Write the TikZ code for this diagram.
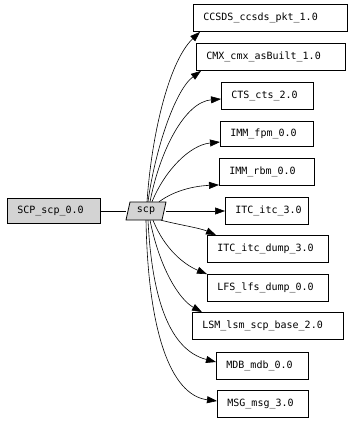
\documentclass[tikz,border=0pt]{standalone}
\usepackage{fontspec}
\setmonofont{DejaVu Sans Mono}
\usetikzlibrary{arrows.meta,calc}
\definecolor{lgray}{HTML}{D3D3D3}
\tikzset{
  box/.style={draw, rectangle, line width=0.8pt, inner xsep=10pt, inner ysep=0pt,
    minimum height=27pt, align=left, anchor=west, font=\ttfamily\fontsize{10}{12}\selectfont},
  edge/.style={line width=0.6pt, -{Triangle[length=10pt,width=7pt]}},
}
\begin{document}
\begin{tikzpicture}[x=1pt,y=-1pt]
\useasboundingbox (0,0) rectangle (349,421);
% source nodes
\node[box, fill=lgray, text width=73pt, minimum height=25pt] (SCP) at (7,211) {SCP\_scp\_0.0};
\fill[lgray] (126,220) -- (130,202) -- (166,202) -- (162,220) -- cycle;
\draw[line width=0.8pt] (126,220) -- (130,202) -- (166,202) -- (162,220) -- cycle;
\node[rectangle, minimum width=36pt, minimum height=18pt, inner sep=0pt, font=\ttfamily\fontsize{10}{12}\selectfont] (scp) at (146,211) {scp};
% targets
\node[box, text width=134pt] (ccsds) at (193,18) {CCSDS\_ccsds\_pkt\_1.0};
\node[box, text width=129pt] (cmx) at (196,57) {CMX\_cmx\_asBuilt\_1.0};
\node[box, text width=72pt] (cts) at (221,96) {CTS\_cts\_2.0};
\node[box, text width=73pt, minimum height=25pt] (fpm) at (220,134) {IMM\_fpm\_0.0};
\node[box, text width=75pt] (rbm) at (219,172) {IMM\_rbm\_0.0};
\node[box, text width=63pt] (itc) at (225,211) {ITC\_itc\_3.0};
\node[box, text width=101pt] (dump) at (207,249) {ITC\_itc\_dump\_3.0};
\node[box, text width=101pt] (lfs) at (207,288) {LFS\_lfs\_dump\_0.0};
\node[box, text width=131pt] (lsm) at (192,326) {LSM\_lsm\_scp\_base\_2.0};
\node[box, text width=72pt] (mdb) at (216,366) {MDB\_mdb\_0.0};
\node[box, text width=71pt] (msg) at (217,404) {MSG\_msg\_3.0};
% connectors
\draw[line width=0.6pt] (SCP.east) -- ($(scp.west)+(-2,0)$);
\draw[edge] ($(scp.north)+(1,0)$) .. controls (152,130) and (170,60) .. ($(ccsds.south west)+(7,0)$);
\draw[edge] ($(scp.north)+(2,0)$) .. controls (155,150) and (175,90) .. ($(cmx.south west)+(5,0)$);
\draw[edge] ($(scp.north)+(4,0)$) .. controls (160,150) and (185,102) .. ($(cts.west)+(0,3)$);
\draw[edge] ($(scp.north)+(6,0)$) .. controls (165,170) and (190,145) .. ($(fpm.west)+(0,8)$);
\draw[edge] ($(scp.north)+(13,0)$) .. controls (175,190) and (195,186) .. ($(rbm.south west)+(0,-1)$);
\draw[edge] ($(scp.east)+(2,0)$) -- (itc.west);
\draw[edge] ($(scp.south)+(15,0)$) .. controls (180,225) and (200,228) .. ($(dump.north west)+(9,0)$);
\draw[edge] ($(scp.south)+(7,0)$) .. controls (165,250) and (185,265) .. ($(lfs.north west)+(0,0)$);
\draw[edge] ($(scp.south)+(4,0)$) .. controls (160,270) and (180,300) .. ($(lsm.north west)+(10,0)$);
\draw[edge] ($(scp.south)+(2,0)$) .. controls (152,300) and (170,350) .. ($(mdb.west)+(0,-4)$);
\draw[edge] ($(scp.south)+(0,0)$) .. controls (148,330) and (170,395) .. ($(msg.west)+(0,-3)$);
\end{tikzpicture}
\end{document}
